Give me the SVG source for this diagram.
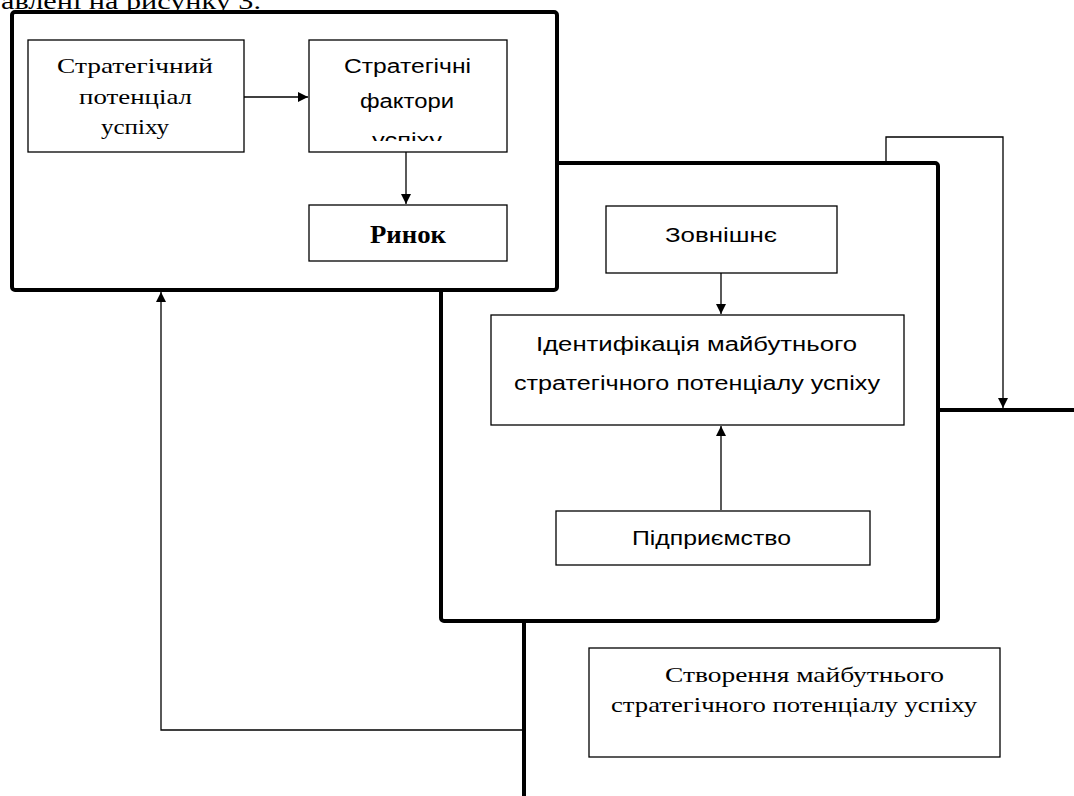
<svg xmlns="http://www.w3.org/2000/svg" width="1074" height="796" viewBox="0 0 1074 796">
<style>
.big{fill:#fff;stroke:#000;stroke-width:4}
.box{fill:#fff;stroke:#000;stroke-width:1.3}
.thin{fill:none;stroke:#000;stroke-width:1.3}
.thick{fill:none;stroke:#000;stroke-width:4}
.serif{font-family:"Liberation Serif",serif;font-size:21px;fill:#000}
.sans{font-family:"Liberation Sans",sans-serif;font-size:20px;fill:#000}
</style>
<defs>
<marker id="ah" viewBox="0 0 10 10" refX="10" refY="5" markerWidth="10" markerHeight="10" markerUnits="userSpaceOnUse" orient="auto">
<path d="M0,0 L10,5 L0,10 Z" fill="#000"/>
</marker>
<clipPath id="clipF"><rect x="309" y="40" width="198" height="101"/></clipPath>
</defs>
<text x="1" y="9" font-family="Liberation Serif, serif" font-size="24" textLength="260" lengthAdjust="spacingAndGlyphs">авлені на рисунку 3.</text>
<g id="connectors">
<path class="thin" d="M886,163 V137 H1003 V408" marker-end="url(#ah)"/>
<path class="thick" d="M938,410 H1074"/>
<path class="thick" d="M524,621 V796"/>
<path class="thin" d="M524,730 H161 V292" marker-end="url(#ah)"/>
</g>
<g id="middle-frame">
<rect class="big" x="441" y="163" width="497" height="458" rx="3"/>
</g>
<g id="top-frame">
<rect class="big" x="12" y="12" width="545" height="278" rx="3"/>
</g>
<g id="inner-connectors">
<path class="thin" d="M244,97 H308" marker-end="url(#ah)"/>
<path class="thin" d="M406,152 V204" marker-end="url(#ah)"/>
<path class="thin" d="M721,273 V314" marker-end="url(#ah)"/>
<path class="thin" d="M721,510 V426" marker-end="url(#ah)"/>
</g>
<g id="potential">
<rect class="box" x="28" y="40" width="216" height="112"/>
<text class="serif" x="57" y="73" textLength="156" lengthAdjust="spacingAndGlyphs">Стратегічний</text>
<text class="serif" x="79" y="104" textLength="113" lengthAdjust="spacingAndGlyphs">потенціал</text>
<text class="serif" x="101" y="134" textLength="68" lengthAdjust="spacingAndGlyphs">успіху</text>
</g>
<g id="factors">
<rect class="box" x="309" y="40" width="198" height="112"/>
<text class="sans" x="344" y="73" textLength="127" lengthAdjust="spacingAndGlyphs">Стратегічні</text>
<text class="sans" x="360" y="108" textLength="94" lengthAdjust="spacingAndGlyphs">фактори</text>
<g clip-path="url(#clipF)"><text class="sans" x="372" y="147" textLength="70" lengthAdjust="spacingAndGlyphs">успіху</text></g>
</g>
<g id="market">
<rect class="box" x="309" y="205" width="198" height="56"/>
<text x="408" y="243" text-anchor="middle" font-family="Liberation Serif, serif" font-size="25" font-weight="bold" textLength="76" lengthAdjust="spacingAndGlyphs">Ринок</text>
</g>
<g id="external">
<rect class="box" x="606" y="206" width="231" height="67"/>
<text class="sans" x="665" y="242" textLength="112" lengthAdjust="spacingAndGlyphs">Зовнішнє</text>
</g>
<g id="identification">
<rect class="box" x="491" y="315" width="413" height="110"/>
<text class="sans" x="536" y="351" textLength="321" lengthAdjust="spacingAndGlyphs">Ідентифікація майбутнього</text>
<text class="sans" x="514" y="390" textLength="366" lengthAdjust="spacingAndGlyphs">стратегічного потенціалу успіху</text>
</g>
<g id="enterprise">
<rect class="box" x="556" y="511" width="314" height="54"/>
<text class="sans" x="632" y="545" textLength="159" lengthAdjust="spacingAndGlyphs">Підприємство</text>
</g>
<g id="creation">
<rect class="box" x="589" y="648" width="411" height="109"/>
<text class="serif" x="665" y="682" textLength="279" lengthAdjust="spacingAndGlyphs">Створення майбутнього</text>
<text class="serif" x="611" y="712" textLength="366" lengthAdjust="spacingAndGlyphs">стратегічного  потенціалу успіху</text>
</g>
</svg>
